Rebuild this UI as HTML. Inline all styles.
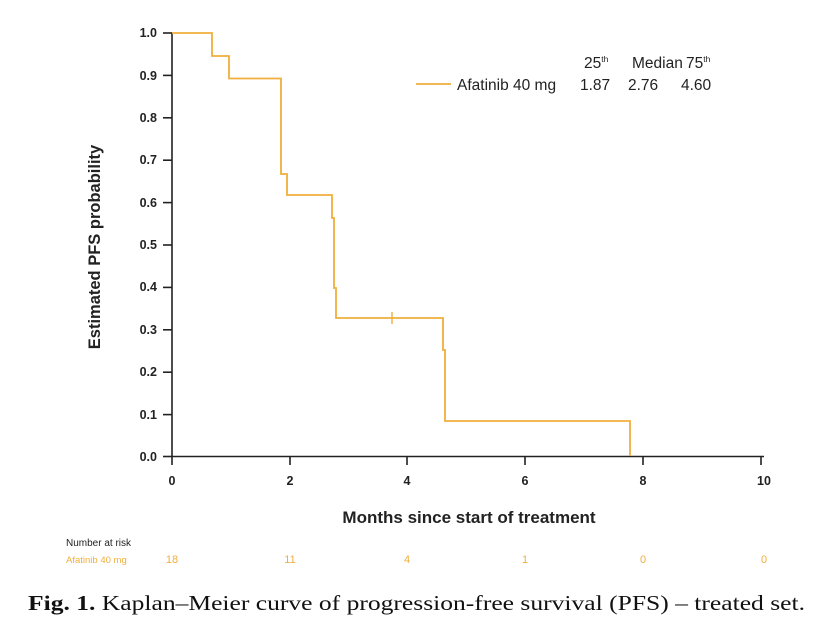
<!DOCTYPE html>
<html><head><meta charset="utf-8"><style>
body{margin:0;background:#fff;width:828px;height:628px;overflow:hidden}
</style></head><body>
<svg width="828" height="628" viewBox="0 0 828 628" xmlns="http://www.w3.org/2000/svg" font-family="Liberation Sans, Arial, sans-serif">
<rect width="828" height="628" fill="#fff"/>
<g stroke="#222" stroke-width="1.6" fill="none">
<line x1="172" y1="33" x2="172" y2="457"/>
<line x1="172" y1="456.5" x2="764" y2="456.5"/>
<line x1="163" y1="33" x2="172" y2="33"/>
<line x1="163" y1="75.4" x2="172" y2="75.4"/>
<line x1="163" y1="117.8" x2="172" y2="117.8"/>
<line x1="163" y1="160.2" x2="172" y2="160.2"/>
<line x1="163" y1="202.6" x2="172" y2="202.6"/>
<line x1="163" y1="245" x2="172" y2="245"/>
<line x1="163" y1="287.4" x2="172" y2="287.4"/>
<line x1="163" y1="329.8" x2="172" y2="329.8"/>
<line x1="163" y1="372.2" x2="172" y2="372.2"/>
<line x1="163" y1="414.6" x2="172" y2="414.6"/>
<line x1="163" y1="456.5" x2="172" y2="456.5"/>
<line x1="172" y1="456" x2="172" y2="465"/>
<line x1="290" y1="456" x2="290" y2="465"/>
<line x1="407" y1="456" x2="407" y2="465"/>
<line x1="525" y1="456" x2="525" y2="465"/>
<line x1="643" y1="456" x2="643" y2="465"/>
<line x1="761" y1="456" x2="761" y2="465"/>
</g>
<g font-size="12.5" font-weight="bold" fill="#222" text-anchor="end">
<text x="157" y="37">1.0</text><text x="157" y="80">0.9</text><text x="157" y="122">0.8</text>
<text x="157" y="164">0.7</text><text x="157" y="207">0.6</text><text x="157" y="249">0.5</text>
<text x="157" y="291">0.4</text><text x="157" y="334">0.3</text><text x="157" y="376">0.2</text>
<text x="157" y="419">0.1</text><text x="157" y="461">0.0</text>
</g>
<g font-size="12.5" font-weight="bold" fill="#222" text-anchor="middle">
<text x="172" y="485">0</text><text x="290" y="485">2</text><text x="407" y="485">4</text>
<text x="525" y="485">6</text><text x="643" y="485">8</text><text x="764" y="485">10</text>
</g>
<text x="469" y="523" font-size="17" font-weight="bold" fill="#222" text-anchor="middle">Months since start of treatment</text>
<text transform="translate(100,247) rotate(-90)" font-size="16.5" font-weight="bold" fill="#222" text-anchor="middle">Estimated PFS probability</text>
<polyline fill="none" stroke="#f0ae3c" stroke-width="1.8" points="172,33 212,33 212,56 229,56 229,78.5 281,78.5 281,174 287,174 287,195 332,195 332,218 334,218 334,288 336,288 336,318 443,318 443,350 445,350 445,421 630,421 630,456"/>
<line x1="392" y1="312" x2="392" y2="324" stroke="#f0ae3c" stroke-width="1.4"/>
<line x1="416" y1="84" x2="451" y2="84" stroke="#f0ae3c" stroke-width="1.8"/>
<g font-size="15.5" fill="#222">
<text x="457" y="90">Afatinib 40 mg</text>
<text x="580" y="90">1.87</text><text x="628" y="90">2.76</text><text x="681" y="90">4.60</text>
<text x="584" y="68">25<tspan font-size="8.5" dy="-6">th</tspan></text>
<text x="632" y="68">Median</text>
<text x="686" y="68">75<tspan font-size="8.5" dy="-6">th</tspan></text>
</g>
<text x="66" y="546" font-size="10" fill="#222">Number at risk</text>
<g font-size="11" fill="#f0ae3c">
<text x="66" y="563" font-size="9.5">Afatinib 40 mg</text>
<text x="172" y="563" text-anchor="middle">18</text><text x="290" y="563" text-anchor="middle">11</text>
<text x="407" y="563" text-anchor="middle">4</text><text x="525" y="563" text-anchor="middle">1</text>
<text x="643" y="563" text-anchor="middle">0</text><text x="764" y="563" text-anchor="middle">0</text>
</g>
<text x="28" y="610" font-family="Liberation Serif, serif" font-size="21" fill="#111" textLength="777" lengthAdjust="spacingAndGlyphs"><tspan font-weight="bold">Fig. 1.</tspan> Kaplan–Meier curve of progression-free survival (PFS) – treated set.</text>
</svg>
</body></html>
